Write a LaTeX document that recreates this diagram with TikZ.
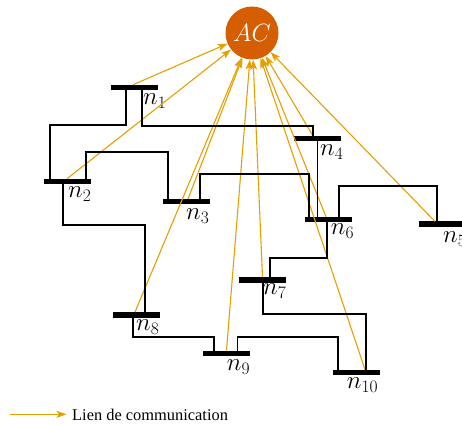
\RequirePackage{fix-cm}
\documentclass[tikz,border=0pt]{standalone}
\usepackage{fontspec}
\newfontfamily\legfont{Liberation Serif}
\usetikzlibrary{arrows.meta,calc}
\definecolor{commcol}{HTML}{E69F00}
\definecolor{accol}{HTML}{D55E00}
\tikzset{
  bus/.style={fill=black, draw=none, minimum width=47pt, minimum height=5.5pt, inner sep=0pt, outer sep=0pt},
  busline/.style={draw=black, line width=1.2pt},
  comm/.style={draw=commcol, line width=1.1pt, -{Stealth[length=10pt,width=7pt,inset=2.5pt]}},
  buslabel/.style={anchor=north west, inner sep=0pt, font=\fontsize{25}{30}\selectfont},
}
\begin{document}
\begin{tikzpicture}[x=1pt,y=1pt]
\useasboundingbox (0,0) rectangle (462,-425);
% central controller
\node[circle, fill=accol, minimum size=53pt, inner sep=0pt, text=white,
      font=\fontsize{25}{30}\selectfont] (AC) at (252,-33) {$AC$};
% buses
\node[bus] (n1) at (134.5,-87.5) {};
\node[bus] (n2) at (67.5,-181.5) {};
\node[bus] (n3) at (186.5,-201.7) {};
\node[bus] (n4) at (317.5,-138.7) {};
\node[bus] (n5) at (442.5,-224.2) {};
\node[bus] (n6) at (328.5,-219.4) {};
\node[bus] (n7) at (262.5,-279.8) {};
\node[bus] (n8) at (136.5,-314.8) {};
\node[bus] (n9) at (226.5,-353.3) {};
\node[bus] (n10) at (356.5,-372.3) {};
% labels
\node[buslabel] (l1) at (143,-94) {$n_1$};
\node[buslabel] (l2) at (68,-186.7) {$n_2$};
\node[buslabel] (l3) at (186,-208.3) {$n_3$};
\node[buslabel] (l4) at (320,-145) {$n_4$};
\node[buslabel] (l5) at (443,-231.7) {$n_5$};
\node[buslabel] (l6) at (330.7,-223.3) {$n_6$};
\node[buslabel] (l7) at (263,-283.7) {$n_7$};
\node[buslabel] (l8) at (136,-319.5) {$n_8$};
\node[buslabel] (l9) at (226.7,-360) {$n_9$};
\node[buslabel] (l10) at (346.7,-377.3) {$n_{10}$};
% communication links
\draw[comm] ([xshift=-1.5pt]n1.north) -- (AC);
\draw[comm] ([xshift=-0.5pt]n2.north) -- (AC);
\draw[comm] ([xshift=1.5pt]n3.north) -- (AC);
\draw[comm] ([xshift=-4.5pt]n4.north) -- (AC);
\draw[comm] ([xshift=-7.5pt]n5.north) -- (AC);
\draw[comm] ([xshift=-2.5pt]n6.north) -- (AC);
\draw[comm] ([xshift=0pt]n7.north) -- (AC);
\draw[comm] ([xshift=-1.5pt]n8.north) -- (AC);
\draw[comm] ([xshift=0pt]n9.north) -- (AC);
\draw[comm] ([xshift=8.5pt]n10.north) -- (AC);
% power lines
\draw[busline] ([xshift=-8.5pt]n1.center) |- (50,-125) -- ([xshift=-17.5pt]n2.center);
\draw[busline] ([xshift=7.5pt]n1.center) |- (313,-126) -- ([xshift=-4.5pt]n4.center);
\draw[busline] ([xshift=18.5pt]n2.center) |- (168,-152) -- ([xshift=-18.5pt]n3.center);
\draw[busline] ([xshift=-4.5pt]n2.center) |- (145,-225) -- ([xshift=8.5pt]n8.center);
\draw[busline] ([xshift=13.5pt]n3.center) |- (309,-174) -- ([xshift=-19.5pt]n6.center);
\draw[busline] (n4.center) -- (n4.center |- n6.center);
\draw[busline] ([xshift=10.5pt]n6.center) |- (437,-186) -- ([xshift=-5.5pt]n5.center);
\draw[busline] ([xshift=-1.5pt]n6.center) |- (270,-258) -- ([xshift=7.5pt]n7.center);
\draw[busline] ([xshift=0.5pt]n7.center) |- (366,-314) -- ([xshift=9.5pt]n10.center);
\draw[busline] ([xshift=-3.5pt]n8.center) |- (214,-337) -- ([xshift=-12.5pt]n9.center);
\draw[busline] ([xshift=11pt]n9.center) |- (338,-337) -- ([xshift=-18.5pt]n10.center);
% legend
\coordinate (lega) at (10,-414.3);
\coordinate (legb) at (66.5,-414.3);
\draw[comm] (lega) -- (legb);
\node[anchor=base west, inner sep=0pt, font=\legfont\fontsize{16.4}{19}\selectfont] (legtext) at (72,-420.3) {Lien de communication};
\end{tikzpicture}
\end{document}
